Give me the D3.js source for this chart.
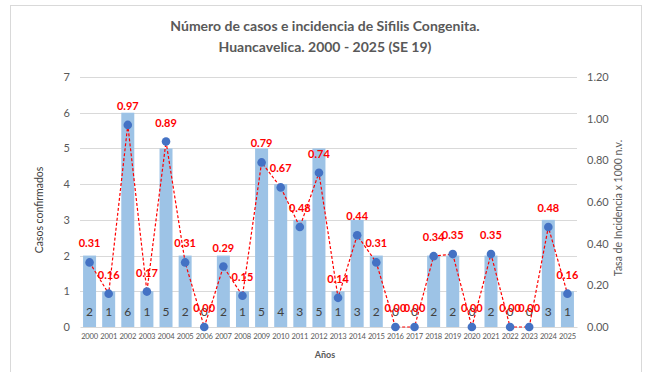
<!DOCTYPE html>
<html>
<head>
<meta charset="utf-8">
<script src="https://cdn.jsdelivr.net/npm/d3@7"></script>
<style>
  html, body { margin: 0; padding: 0; background: #fff; }
  svg { display: block; }
  text { font-family: Lato, "Open Sans", sans-serif; }
</style>
</head>
<body>
<svg id="chart" width="648" height="372"></svg>
<script>
// Congenital syphilis in Huancavelica, 2000-2025
const years = ["2000","2001","2002","2003","2004","2005","2006","2007","2008","2009","2010","2011","2012",
               "2013","2014","2015","2016","2017","2018","2019","2020","2021","2022","2023","2024","2025"];
const cases = [2, 1, 6, 1, 5, 2, 0, 2, 1, 5, 4, 3, 5, 1, 3, 2, 0, 0, 2, 2, 0, 2, 0, 0, 3, 1];
const rates = [0.31, 0.16, 0.97, 0.17, 0.89, 0.31, 0.00, 0.29, 0.15, 0.79, 0.67, 0.48, 0.74,
               0.14, 0.44, 0.31, 0.00, 0.00, 0.34, 0.35, 0.00, 0.35, 0.00, 0.00, 0.48, 0.16];
const leftTicks = [0, 1, 2, 3, 4, 5, 6, 7];
const rightTicks = [0, 0.2, 0.4, 0.6, 0.8, 1.0, 1.2];
const titleLines = ["Número de casos e incidencia de Sifilis Congenita.", "Huancavelica. 2000 - 2025 (SE 19)"];

const svg = d3.select("#chart");
const m = { left: 80, right: 577, top: 77, bottom: 327 };

// outer frame
svg.append("rect").attr("x", 10.5).attr("y", 5.5).attr("width", 631).attr("height", 380)
  .attr("fill", "none").attr("stroke", "#d9d9d9");

const x = d3.scaleBand().domain(years).range([m.left, m.right]).paddingInner(0.32).paddingOuter(0.16);
const yL = d3.scaleLinear().domain([0, 7]).range([m.bottom, m.top]);
const yR = d3.scaleLinear().domain([0, 1.2]).range([m.bottom, m.top]);

// gridlines
svg.append("g").selectAll("line").data(leftTicks.filter(d => d > 0)).join("line")
  .attr("x1", m.left).attr("x2", m.right)
  .attr("y1", d => Math.round(yL(d)) + 0.5).attr("y2", d => Math.round(yL(d)) + 0.5)
  .attr("stroke", "#d9d9d9").attr("stroke-width", 1);

// left axis
const axL = svg.append("g").attr("transform", `translate(${m.left},0)`)
  .call(d3.axisLeft(yL).tickValues(leftTicks).tickFormat(d3.format("d")).tickSize(0).tickPadding(10));
axL.select(".domain").remove();
axL.selectAll("text").attr("font-size", 11).attr("fill", "#595959");

// right axis
const axR = svg.append("g").attr("transform", `translate(${m.right},0)`)
  .call(d3.axisRight(yR).tickValues(rightTicks).tickFormat(d3.format(".2f")).tickSize(0).tickPadding(10));
axR.select(".domain").remove();
axR.selectAll("text").attr("font-size", 11).attr("fill", "#595959");

// bars
svg.append("g").selectAll("rect").data(cases).join("rect")
  .attr("x", (d, i) => x(years[i]))
  .attr("y", d => yL(d))
  .attr("width", x.bandwidth())
  .attr("height", d => yL(0) - yL(d))
  .attr("fill", "#9dc3e6");

// bottom axis
const axB = svg.append("g").attr("transform", `translate(0,${m.bottom})`)
  .call(d3.axisBottom(x).tickSize(0).tickPadding(7));
axB.select(".domain").attr("stroke", "#d9d9d9");
axB.selectAll("text").attr("font-size", 7.6).attr("letter-spacing", "-0.2").attr("fill", "#595959");

// case count labels
svg.append("g").selectAll("text").data(cases).join("text")
  .attr("x", (d, i) => x(years[i]) + x.bandwidth() / 2)
  .attr("y", 316)
  .attr("text-anchor", "middle")
  .attr("font-size", 12).attr("fill", "#404040")
  .text(d => d);

// incidence line
const cx = i => x(years[i]) + x.bandwidth() / 2;
svg.append("path").datum(rates)
  .attr("d", d3.line().x((d, i) => cx(i)).y(d => yR(d)))
  .attr("fill", "none").attr("stroke", "#ff0000").attr("stroke-width", 1.2)
  .attr("stroke-dasharray", "3,2");

svg.append("g").selectAll("circle").data(rates).join("circle")
  .attr("cx", (d, i) => cx(i)).attr("cy", d => yR(d)).attr("r", 4.3)
  .attr("fill", "#4472c4");

svg.append("g").selectAll("text").data(rates).join("text")
  .attr("x", (d, i) => cx(i)).attr("y", d => yR(d) - 15)
  .attr("text-anchor", "middle")
  .attr("font-size", 11).attr("font-weight", "bold").attr("fill", "#ff0000")
  .text(d => d3.format(".2f")(d));

// titles
svg.append("g").selectAll("text").data(titleLines).join("text")
  .attr("x", 325).attr("y", (d, i) => 31 + i * 21)
  .attr("text-anchor", "middle")
  .attr("font-size", 14).attr("font-weight", "bold").attr("fill", "#595959")
  .text(d => d);

svg.append("text").attr("x", 325).attr("y", 358).attr("text-anchor", "middle")
  .attr("font-size", 9).attr("font-weight", "bold").attr("fill", "#595959").text("Años");

svg.append("text").attr("transform", "translate(43,210) rotate(-90)").attr("text-anchor", "middle")
  .attr("font-size", 10.5).attr("fill", "#404040").text("Casos  confirmados");

svg.append("text").attr("transform", "translate(622,208) rotate(-90)").attr("text-anchor", "middle")
  .attr("font-size", 10.5).attr("fill", "#595959").text("Tasa de Incidencia x 1000 n.v.");
</script>
</body>
</html>
